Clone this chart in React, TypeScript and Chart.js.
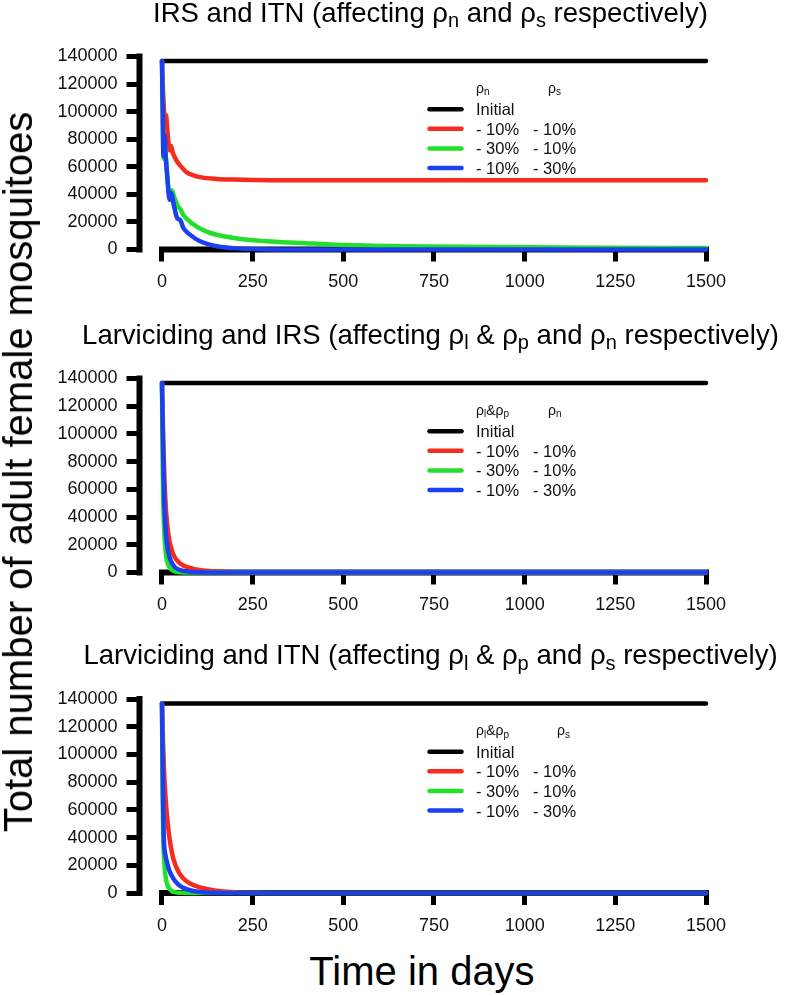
import { useEffect, useRef } from 'react';
import { Chart, registerables } from 'chart.js';

Chart.register(...registerables);

const FONT = '"Liberation Sans", Arial, Helvetica, sans-serif';
const BLACK = '#000000';
const RED = '#f42b1d';
const GREEN = '#22e02a';
const BLUE = '#1c3ff0';

// axes
const X_TICKS = [0, 250, 500, 750, 1000, 1250, 1500];
const Y_MIN = 0;
const Y_MAX = 140000;
const Y_STEP = 20000;

// baseline population (same in every panel)
const INITIAL_DAYS = [0, 1500];
const INITIAL = [136800, 136800];

// panel 1: IRS and ITN
const IRS_ITN_RED_DAYS = [0, 4, 8, 11, 15, 21, 25, 30, 40, 50, 68, 85, 105, 150, 200, 300, 1500];
const IRS_ITN_RED = [136800, 108000, 96000, 97500, 86000, 72000, 75000, 70000, 64500, 61000, 56000, 54000, 52500, 51200, 50700, 50300, 50200];
const IRS_ITN_GREEN_DAYS = [0, 2, 4, 6, 10, 15, 21, 27, 35, 45, 50, 59, 82, 123, 197, 289, 380, 500, 750, 1000, 1250, 1500];
const IRS_ITN_GREEN = [136800, 100000, 66000, 80000, 70000, 52000, 38000, 43000, 37000, 31000, 29500, 25000, 19000, 13000, 8400, 6000, 4800, 3300, 2200, 1600, 1300, 1100];
const IRS_ITN_BLUE_DAYS = [0, 2, 4, 7, 10, 14, 21, 25, 32, 40, 45, 50, 59, 77, 105, 151, 196, 250, 350, 1500];
const IRS_ITN_BLUE = [136800, 100000, 68000, 83000, 68000, 55000, 36000, 41000, 33000, 24000, 22000, 21500, 15600, 10800, 6000, 2400, 1000, 300, 0, 0];

// panel 2: larviciding and IRS
const LARV_IRS_RED_DAYS = [0, 2, 4, 7, 11, 17, 24, 33, 50, 77, 114, 150, 200, 300, 1500];
const LARV_IRS_RED = [136800, 112000, 90000, 66000, 45000, 28500, 19000, 12000, 6500, 3300, 1500, 700, 250, 0, 0];
const LARV_IRS_GREEN_DAYS = [0, 1, 2, 3, 5, 8, 12, 17, 24, 35, 50, 80, 1500];
const LARV_IRS_GREEN = [136800, 105000, 78000, 58000, 38000, 22000, 11000, 5500, 2500, 800, 200, 0, 0];
const LARV_IRS_BLUE_DAYS = [0, 2, 4, 6, 9, 13, 18, 25, 35, 50, 75, 110, 150, 1500];
const LARV_IRS_BLUE = [136800, 105000, 75000, 52000, 35000, 22000, 14000, 8000, 4000, 1800, 600, 150, 0, 0];

// panel 3: larviciding and ITN
const LARV_ITN_RED_DAYS = [0, 3, 6, 10, 14, 18, 24, 31, 45, 59, 80, 105, 150, 200, 260, 350, 1500];
const LARV_ITN_RED = [136800, 108000, 86000, 68000, 55000, 45000, 34000, 25000, 15500, 10500, 6500, 4000, 1600, 600, 150, 0, 0];
const LARV_ITN_GREEN_DAYS = [0, 1, 2, 3, 4.5, 6, 8, 12, 17, 25, 35, 50, 80, 1500];
const LARV_ITN_GREEN = [136800, 100000, 70000, 48000, 33000, 24000, 16000, 8500, 4500, 1800, 600, 100, 0, 0];
const LARV_ITN_BLUE_DAYS = [0, 1.5, 3, 4.5, 6, 9, 13, 20, 31, 45, 59, 80, 105, 150, 200, 1500];
const LARV_ITN_BLUE = [136800, 100000, 66000, 44000, 34000, 28000, 23000, 16500, 10500, 6000, 3800, 1800, 800, 200, 0, 0];

// legend rows: [first column, second column]
const LEGEND_ROWS = [
  ['Initial', ''],
  ['- 10%', '- 10%'],
  ['- 30%', '- 10%'],
  ['- 10%', '- 30%'],
];

type Seg = { t: string; sub?: boolean };

const TITLE_IRS_ITN: Seg[] = [
  { t: 'IRS and ITN (affecting ρ' }, { t: 'n', sub: true },
  { t: ' and ρ' }, { t: 's', sub: true }, { t: ' respectively)' },
];
const TITLE_LARV_IRS: Seg[] = [
  { t: 'Larviciding and IRS (affecting ρ' }, { t: 'l', sub: true }, { t: ' & ρ' }, { t: 'p', sub: true },
  { t: ' and ρ' }, { t: 'n', sub: true }, { t: ' respectively)' },
];
const TITLE_LARV_ITN: Seg[] = [
  { t: 'Larviciding and ITN (affecting ρ' }, { t: 'l', sub: true }, { t: ' & ρ' }, { t: 'p', sub: true },
  { t: ' and ρ' }, { t: 's', sub: true }, { t: ' respectively)' },
];

const HDR_N: Seg[] = [{ t: 'ρ' }, { t: 'n', sub: true }];
const HDR_S: Seg[] = [{ t: 'ρ' }, { t: 's', sub: true }];
const HDR_LP: Seg[] = [{ t: 'ρ' }, { t: 'l', sub: true }, { t: '&ρ' }, { t: 'p', sub: true }];

interface Series { days: number[]; values: number[]; color: string }
interface PanelCfg {
  top: number; height: number; plotTop: number; plotBottom: number;
  title: Seg[]; hdr1: Seg[]; hdr2: Seg[]; hdr2X: number;
  series: Series[];
}

const PANELS: PanelCfg[] = [
  {
    top: 0, height: 310, plotTop: 56.5, plotBottom: 249.5,
    title: TITLE_IRS_ITN, hdr1: HDR_N, hdr2: HDR_S, hdr2X: 408.5,
    series: [
      { days: INITIAL_DAYS, values: INITIAL, color: BLACK },
      { days: IRS_ITN_RED_DAYS, values: IRS_ITN_RED, color: RED },
      { days: IRS_ITN_GREEN_DAYS, values: IRS_ITN_GREEN, color: GREEN },
      { days: IRS_ITN_BLUE_DAYS, values: IRS_ITN_BLUE, color: BLUE },
    ],
  },
  {
    top: 305, height: 320, plotTop: 378.5, plotBottom: 572.5,
    title: TITLE_LARV_IRS, hdr1: HDR_LP, hdr2: HDR_N, hdr2X: 408.5,
    series: [
      { days: INITIAL_DAYS, values: INITIAL, color: BLACK },
      { days: LARV_IRS_RED_DAYS, values: LARV_IRS_RED, color: RED },
      { days: LARV_IRS_GREEN_DAYS, values: LARV_IRS_GREEN, color: GREEN },
      { days: LARV_IRS_BLUE_DAYS, values: LARV_IRS_BLUE, color: BLUE },
    ],
  },
  {
    top: 625, height: 320, plotTop: 699, plotBottom: 893,
    title: TITLE_LARV_ITN, hdr1: HDR_LP, hdr2: HDR_S, hdr2X: 417.5,
    series: [
      { days: INITIAL_DAYS, values: INITIAL, color: BLACK },
      { days: LARV_ITN_RED_DAYS, values: LARV_ITN_RED, color: RED },
      { days: LARV_ITN_GREEN_DAYS, values: LARV_ITN_GREEN, color: GREEN },
      { days: LARV_ITN_BLUE_DAYS, values: LARV_ITN_BLUE, color: BLUE },
    ],
  },
];

const X_AXIS_H = 40;
const Y_AXIS_W = 139.5;
const PLOT_RIGHT = 706;
const X_MIN = -62;

function drawRich(ctx: CanvasRenderingContext2D, segs: Seg[], x: number, y: number, size: number, subScale: number, center: boolean) {
  const main = `${size}px ${FONT}`;
  const small = `${Math.round(size * subScale)}px ${FONT}`;
  let w = 0;
  for (const s of segs) {
    ctx.font = s.sub ? small : main;
    w += ctx.measureText(s.t).width;
  }
  let cx = center ? x - w / 2 : x;
  ctx.textAlign = 'left';
  ctx.textBaseline = 'alphabetic';
  for (const s of segs) {
    ctx.font = s.sub ? small : main;
    ctx.fillText(s.t, cx, s.sub ? y + size * 0.2 : y);
    cx += ctx.measureText(s.t).width;
  }
}

function makeDecor(cfg: PanelCfg) {
  return {
    id: 'decor',
    beforeDatasetsDraw(chart: Chart) {
      const { ctx, scales } = chart;
      const xs = scales['x'];
      const ys = scales['y'];
      const y0 = ys.getPixelForValue(Y_MIN);
      ctx.save();
      ctx.strokeStyle = '#000';
      ctx.lineWidth = 6;
      ctx.lineCap = 'square';
      ctx.beginPath();
      ctx.moveTo(xs.getPixelForValue(X_TICKS[0]), y0);
      ctx.lineTo(xs.getPixelForValue(X_TICKS[X_TICKS.length - 1]), y0);
      ctx.stroke();
      const xl = xs.getPixelForValue(X_MIN);
      ctx.beginPath();
      ctx.moveTo(xl, y0);
      ctx.lineTo(xl, ys.getPixelForValue(Y_MAX));
      ctx.stroke();
      ctx.restore();
    },
    afterDraw(chart: Chart) {
      const { ctx, chartArea } = chart;
      const L = chartArea.left;
      const T = chartArea.top;
      ctx.save();
      ctx.fillStyle = '#000';
      // panel title
      drawRich(ctx, cfg.title, L + 291, T - 35, 27.5, 0.72, true);
      // legend header
      ctx.fillStyle = '#111';
      drawRich(ctx, cfg.hdr1, L + 336.5, T + 36, 14, 0.72, false);
      drawRich(ctx, cfg.hdr2, L + cfg.hdr2X, T + 36, 14, 0.72, false);
      // legend rows
      const rowY = [52.7, 72.2, 91.9, 111.6];
      cfg.series.forEach((s, i) => {
        const y = T + rowY[i];
        ctx.strokeStyle = s.color;
        ctx.lineWidth = 4.5;
        ctx.lineCap = 'round';
        ctx.beginPath();
        ctx.moveTo(L + 290, y);
        ctx.lineTo(L + 322, y);
        ctx.stroke();
        ctx.font = `16.5px ${FONT}`;
        ctx.fillStyle = '#111';
        ctx.textAlign = 'left';
        ctx.textBaseline = 'alphabetic';
        ctx.fillText(LEGEND_ROWS[i][0], L + 336.5, y + 6);
        ctx.fillText(LEGEND_ROWS[i][1], L + 393.5, y + 6);
      });
      ctx.restore();
    },
  };
}

function Panel({ cfg }: { cfg: PanelCfg }) {
  const canvasRef = useRef<HTMLCanvasElement>(null);

  useEffect(() => {
    if (!canvasRef.current) return;
    const tickFont = { family: FONT, size: 18 };
    const chart = new Chart(canvasRef.current, {
      type: 'line',
      data: {
        datasets: cfg.series.map((s, i) => ({
          data: s.days.map((d, j) => ({ x: d, y: s.values[j] })),
          borderColor: s.color,
          backgroundColor: s.color,
          borderWidth: 4.5,
          pointRadius: 0,
          fill: false,
          cubicInterpolationMode: 'monotone' as const,
          borderCapStyle: 'round' as const,
          borderJoinStyle: 'round' as const,
          clip: false as const,
          order: cfg.series.length - 1 - i,
        })),
      },
      options: {
        animation: false,
        responsive: false,
        events: [],
        layout: {
          padding: {
            left: 0,
            right: 787 - PLOT_RIGHT,
            top: cfg.plotTop - cfg.top,
            bottom: cfg.height - (cfg.plotBottom - cfg.top) - X_AXIS_H,
          },
        },
        plugins: {
          legend: { display: false },
          tooltip: { enabled: false },
        },
        scales: {
          x: {
            type: 'linear',
            min: X_MIN,
            max: X_TICKS[X_TICKS.length - 1],
            afterBuildTicks: (s: any) => { s.ticks = X_TICKS.map((v) => ({ value: v })); },
            afterFit: (s: any) => { s.height = X_AXIS_H; },
            border: { display: false },
            grid: { display: true, drawOnChartArea: false, drawTicks: true, tickLength: 12, tickWidth: 5, tickColor: '#000', color: '#000' },
            ticks: { color: '#111', font: tickFont, padding: 10, maxRotation: 0, autoSkip: false, callback: (v: any) => String(v) },
          },
          y: {
            type: 'linear',
            min: Y_MIN,
            max: Y_MAX,
            afterFit: (s: any) => { s.width = Y_AXIS_W; },
            border: { display: false },
            grid: { display: true, drawOnChartArea: false, drawTicks: true, tickLength: 13, tickWidth: 5, tickColor: '#000', color: '#000' },
            ticks: { stepSize: Y_STEP, color: '#111', font: tickFont, padding: 9, autoSkip: false, callback: (v: any) => String(v) },
          },
        },
      },
      plugins: [makeDecor(cfg)],
    });
    return () => { chart.destroy(); };
  }, [cfg]);

  return (
    <div style={{ position: 'absolute', left: 0, top: cfg.top, width: 787, height: cfg.height }}>
      <canvas ref={canvasRef} width={787} height={cfg.height} style={{ width: 787, height: cfg.height, display: 'block' }} />
    </div>
  );
}

export default function App() {
  return (
    <div style={{ position: 'absolute', left: 0, top: 0, width: 787, height: 996, background: '#fff', fontFamily: FONT, color: '#000' }}>
      {PANELS.map((p, i) => <Panel key={i} cfg={p} />)}
      <div
        style={{
          position: 'absolute', left: 17.5, top: 472, fontSize: 40, lineHeight: '40px', whiteSpace: 'nowrap',
          transform: 'translate(-50%, -50%) rotate(-90deg)',
        }}
      >
        Total number of adult female mosquitoes
      </div>
      <div
        style={{
          position: 'absolute', left: 422, top: 971, fontSize: 40, lineHeight: '40px', whiteSpace: 'nowrap',
          transform: 'translate(-50%, -50%)',
        }}
      >
        Time in days
      </div>
    </div>
  );
}
